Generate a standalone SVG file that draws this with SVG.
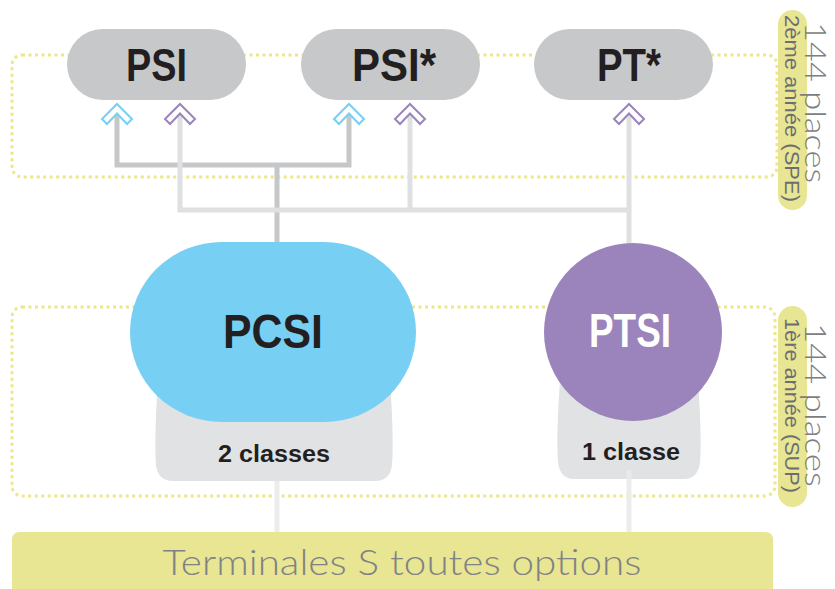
<svg xmlns="http://www.w3.org/2000/svg" width="835" height="589" viewBox="0 0 835 589">
<style>
.box{fill:none;stroke:#ece88a;stroke-width:3;stroke-dasharray:3 3.5}
.dk{fill:none;stroke:#c6c7c9;stroke-width:5}
.lt{fill:none;stroke:#dfe0e2;stroke-width:5}
.vl{fill:none;stroke:#ececec;stroke-width:5}
.node{fill:#c7c8ca}
.t{font-family:"Liberation Sans",Arial,sans-serif;font-weight:bold;fill:#231f20;text-anchor:middle}
.sub{fill:#e1e2e4}
.chc{fill:#fff;stroke:#76d0f3;stroke-width:2}
.chp{fill:#fff;stroke:#9b84bb;stroke-width:2}
.pill{fill:#e8e593}
.ptxt{font-family:"Liberation Sans",Arial,sans-serif;font-size:20px;fill:#6d6e71;text-anchor:middle}
.big{font-family:"Lato","Liberation Sans",sans-serif;font-weight:300;font-size:29px;fill:#7d7e81;text-anchor:middle}
</style>
<defs>
<polygon id="chev" points="0,0 15,15 10,20 0,9.5 -10,20 -15,15"/>
</defs>
<rect class="box" x="12" y="55" width="765" height="122" rx="10"/>
<rect class="box" x="12" y="307" width="763" height="189" rx="10"/>
<g id="connectors">
<path class="vl" d="M277,470 V534"/>
<path class="vl" d="M629,470 V534"/>
<path class="dk" d="M117,112 V165 H349 V112"/>
<path class="dk" d="M277,165 V250"/>
<path class="lt" d="M180,112 V210 H629"/>
<path class="lt" d="M410,112 V210"/>
<path class="lt" d="M629,112 V250"/>
<use href="#chev" class="chc" x="117" y="104"/>
<use href="#chev" class="chp" x="180" y="104"/>
<use href="#chev" class="chc" x="349" y="104"/>
<use href="#chev" class="chp" x="410" y="104"/>
<use href="#chev" class="chp" x="629" y="104"/>
</g>
<g id="psi">
<rect class="node" x="67" y="29" width="179" height="71" rx="35.5"/>
<text class="t" x="156.5" y="81" font-size="46" textLength="61" lengthAdjust="spacingAndGlyphs">PSI</text>
</g>
<g id="psistar">
<rect class="node" x="301" y="29" width="179" height="71" rx="35.5"/>
<text class="t" x="394" y="81" font-size="46" textLength="84" lengthAdjust="spacingAndGlyphs">PSI*</text>
</g>
<g id="ptstar">
<rect class="node" x="534" y="29" width="179" height="71" rx="35.5"/>
<text class="t" x="629" y="81" font-size="46" textLength="64" lengthAdjust="spacingAndGlyphs">PT*</text>
</g>
<g id="pcsi">
<path class="sub" d="M158,380 H390 Q394,440 392,465 Q390,481 375,481 H173 Q158,481 156,465 Q154,440 158,380 Z"/>
<rect x="130" y="242" width="286" height="180" rx="92" ry="90" fill="#77d0f3"/>
<text class="t" x="273" y="348" font-size="48" textLength="100" lengthAdjust="spacingAndGlyphs">PCSI</text>
<text class="t" x="274" y="462" font-size="23" textLength="112" lengthAdjust="spacingAndGlyphs">2 classes</text>
</g>
<g id="ptsi">
<path class="sub" d="M560,380 H698 Q702,440 700,462 Q698,479 684,479 H574 Q560,479 558,462 Q556,440 560,380 Z"/>
<path class="vl" d="M629,470 V479" style="stroke:#e9e9ea"/>
<circle cx="633" cy="332" r="89" fill="#9b84bb"/>
<text class="t" x="630" y="347" font-size="48" textLength="82" lengthAdjust="spacingAndGlyphs" style="fill:#fff">PTSI</text>
<text class="t" x="631" y="460" font-size="23" textLength="98" lengthAdjust="spacingAndGlyphs">1 classe</text>
</g>
<g id="terminales">
<path d="M12,589 V540 Q12,532 20,532 H765 Q773,532 773,540 V589 Z" fill="#e8e593"/>
<text x="402" y="575" font-family="Lato,'Liberation Sans',sans-serif" font-weight="300" font-size="35" fill="#808285" text-anchor="middle" textLength="479" lengthAdjust="spacingAndGlyphs">Terminales S toutes options</text>
</g>
<g id="label-spe">
<rect class="pill" x="778" y="10" width="29" height="200" rx="14.5"/>
<text class="ptxt" transform="translate(785,108.5) rotate(90)" textLength="187" lengthAdjust="spacingAndGlyphs">2ème année (SPE)</text>
<text class="big" transform="translate(805,102.5) rotate(90)" textLength="161" lengthAdjust="spacingAndGlyphs">144 places</text>
</g>
<g id="label-sup">
<rect class="pill" x="778" y="306" width="29" height="201" rx="14.5"/>
<text class="ptxt" transform="translate(785,405.5) rotate(90)" textLength="175" lengthAdjust="spacingAndGlyphs">1ère année (SUP)</text>
<text class="big" transform="translate(805,405) rotate(90)" textLength="164" lengthAdjust="spacingAndGlyphs">144 places</text>
</g>
</svg>
